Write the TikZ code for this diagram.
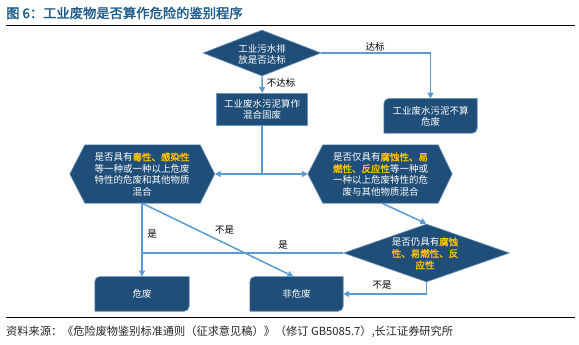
\documentclass[tikz,border=0pt]{standalone}
\usepackage{fontspec}
\setmainfont{Noto Sans CJK SC}[AutoFakeBold=2]
\usetikzlibrary{arrows.meta,shapes.geometric,calc}
\definecolor{db}{HTML}{1F4E79}
\definecolor{bd}{HTML}{6F94BC}
\definecolor{lb}{HTML}{5B9BD5}
\definecolor{yel}{HTML}{FFC000}
\definecolor{ttl}{HTML}{1F5C8C}
\newcommand\nodefs{\fontsize{9.5}{11.6}\selectfont}
\newcommand\hl[1]{{\bfseries\color{yel}#1}}
\newcommand\rbox[1]{\path[shapefill] (#1.south west) -- ([yshift=-5pt]#1.north west) arc[start angle=180,end angle=90,radius=5pt] -- (#1.north east) -- ([yshift=5pt]#1.south east) arc[start angle=0,end angle=-90,radius=5pt] -- cycle;}
\tikzset{
  conn/.style={draw=lb, line width=1.5pt},
  arr/.style={conn, -{Triangle[length=6pt,width=6pt]}},
  shapefill/.style={fill=db, draw=bd, line width=0.6pt},
  txt/.style={text=white, font=\nodefs, align=center, inner sep=0pt},
  lbl/.style={font=\nodefs, text=black, inner sep=1pt},
  anchorbox/.style={rectangle, inner sep=0pt},
}
\begin{document}
\begin{tikzpicture}[x=1pt,y=1pt]
\useasboundingbox[fill=white] (0,0) rectangle (579,-345);
% title
\node[anchor=west, inner sep=0pt, font=\fontsize{13.3}{15}\selectfont\bfseries, text=ttl] (title) at (6,-13) {图 6：工业废物是否算作危险的鉴别程序};
\coordinate (tl1) at (6,-25.5);
\coordinate (tl2) at (575,-25.5);
\draw[line width=1.3pt] (tl1) -- (tl2);
% diamond 1
\node[diamond, shapefill, minimum width=118pt, minimum height=46pt, inner sep=0pt] (d1) at (262,-53) {};
\node[txt] (d1t) at (262,-54.5) {工业污水排\\放是否达标};
% box 2
\node[rectangle, shapefill, txt, minimum width=91pt, minimum height=31.7pt] (b2) at (262.2,-109.2) {工业废水污泥算作\\混合固废};
% box 3
\node[anchorbox, minimum width=93pt, minimum height=34.3pt] (b3) at (430.5,-115.9) {};
\rbox{b3}
\node[txt] (b3t) at (430.5,-116.5) {工业废水污泥不算\\危废};
% hexagon 1
\node[anchorbox, minimum width=144.5pt, minimum height=58pt] (h1) at (142.25,-174) {};
\path[shapefill] (h1.west) -- ([xshift=15pt]h1.north west) -- ([xshift=-14.5pt]h1.north east) -- (h1.east) -- ([xshift=-14.5pt]h1.south east) -- ([xshift=15pt]h1.south west) -- cycle;
\node[txt] (h1t) at (142,-174.5) {是否具有\hl{毒性、感染性}\\等一种或一种以上危废\\特性的危废和其他物质\\混合};
% hexagon 2
\node[anchorbox, minimum width=144pt, minimum height=58pt] (h2) at (380,-174) {};
\path[shapefill] (h2.west) -- ([xshift=15pt]h2.north west) -- ([xshift=-14pt]h2.north east) -- (h2.east) -- ([xshift=-14pt]h2.south east) -- ([xshift=15pt]h2.south west) -- cycle;
\node[txt] (h2t) at (380.5,-174.5) {是否仅具有\hl{腐蚀性、易}\\\hl{燃性、反应性}等一种或\\一种以上危废特性的危\\废与其他物质混合};
% diamond 3
\node[diamond, shapefill, minimum width=166pt, minimum height=58pt, inner sep=0pt] (d3) at (426.5,-253) {};
\node[txt] (d3t) at (425,-253.5) {是否仍具有\hl{腐蚀}\\\hl{性、易燃性、反}\\\hl{应性}};
% bottom boxes
\node[anchorbox, minimum width=94pt, minimum height=34.3pt] (bw) at (142,-293.9) {};
\rbox{bw}
\node[txt] (bwt) at (142,-294) {危废};
\node[anchorbox, minimum width=93pt, minimum height=34.3pt] (bn) at (296.5,-293.9) {};
\rbox{bn}
\node[txt] (bnt) at (296.5,-294) {非危废};
% connectors
\draw[arr] (d1.east) -| (b3.north);
\draw[arr] (d1.south) -- (b2.north);
\coordinate (j) at (b2.south |- h1.east);
\draw[conn] (b2.south) -- (j);
\draw[arr] (j) -- (h1.east);
\draw[arr] (j) -- (h2.west);
\coordinate (h1b) at (h1.south -| bw.north);
\draw[arr] (h1b) -- (bw.north);
\draw[arr] (h1b) -- ([xshift=-3pt]bn.north);
\coordinate (d3l) at (d3.west -| bw.north);
\draw[conn] (d3.west) -- (d3l);
\coordinate (h2b) at ([xshift=2pt]h2.south);
\draw[arr] (h2b) -- (d3.north);
\draw[arr] (d3.south) |- (bn.east);
% labels
\node[lbl] (l1) at (375,-47) {达标};
\node[lbl] (l2) at (281,-83) {不达标};
\node[lbl] (l3) at (152,-234) {是};
\node[lbl] (l4) at (224.6,-230) {不是};
\node[lbl] (l5) at (283,-245) {是};
\node[lbl] (l6) at (382,-285) {不是};
% source
\coordinate (sl1) at (6,-317.3);
\coordinate (sl2) at (575,-317.3);
\draw[line width=1pt] (sl1) -- (sl2);
\node[anchor=west, inner sep=0pt, font=\fontsize{11.2}{13}\selectfont, text=black!85] (src) at (6,-331.5) {资料来源：《危险废物鉴别标准通则（征求意见稿）》（修订 GB5085.7）,长江证券研究所};
\end{tikzpicture}
\end{document}
